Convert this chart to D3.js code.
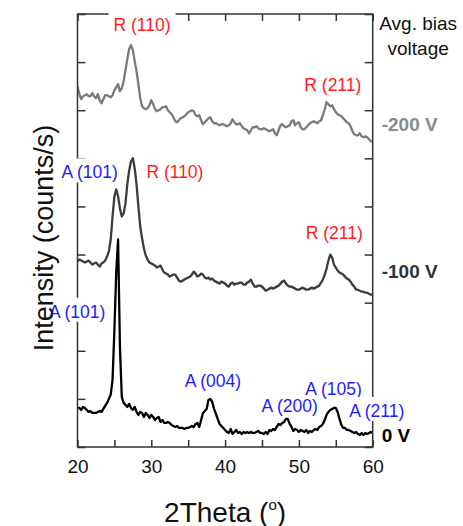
<!DOCTYPE html>
<html>
<head>
<meta charset="utf-8">
<script src="https://cdn.jsdelivr.net/npm/d3@7"></script>
<style>
    body { margin: 0; background: #fff; }
    svg { display: block; }
    text { font-family: "Liberation Sans", Arial, Helvetica, sans-serif; }
</style>
</head>
<body>
<div id="chart"></div>
<script>
// 2Theta grid (degrees), one point every 0.25
const angleStart = 20, angleEnd = 60, angleStep = 0.25;
const twoTheta = d3.range(angleStart, angleEnd + angleStep / 2, angleStep);

const xTicks = [20, 30, 40, 50, 60];
const xMinorTicks = [20, 25, 30, 35, 40, 45, 50, 55, 60];
const yTicks = [0, 48, 96, 144, 192, 240, 288, 336, 384, 432];

// stacked intensities (counts/s, offset per bias voltage), one row per degree
const intensity0V = [
    39, 39, 37, 40,  39, 37, 35, 36,  34, 34, 34, 35,  36, 35, 38, 41,
    44, 48, 52, 67,  117, 175, 207, 100,  50, 44, 42, 40,  43, 39, 37, 40,
    35, 32, 35, 34,  30, 34, 32, 29,  32, 30, 27, 29,  30, 25, 27, 24,
    24, 25, 24, 22,  21, 20, 21, 19,  19, 19, 18, 19,  19, 20, 21, 20,
    23, 24, 20, 27,  34, 36, 38, 47,  48, 45, 38, 33,  28, 23, 21, 19,
    17, 15, 14, 18,  13, 15, 17, 14,  15, 13, 15, 14,  15, 14, 15, 14,
    14, 15, 16, 14,  14, 13, 15, 13,  17, 16, 18, 17,  20, 23, 22, 24,
    25, 28, 28, 23,  20, 16, 18, 17,  15, 17, 16, 15,  17, 14, 16, 15,
    17, 18, 17, 20,  21, 23, 27, 32,  35, 37, 38, 39,  39, 35, 28, 22,
    19, 19, 17, 17,  16, 15, 14, 15,  13, 12, 14, 12,  14, 13, 14, 15,
    14
];
const intensity100V = [
    185, 187, 186, 185,  184, 185, 186, 184,  182, 183, 184, 182,  180, 183, 184, 186,
    190, 195, 207, 230,  250, 257, 250, 238,  230, 233, 243, 262,  276, 285, 288, 278,
    262, 240, 220, 208,  198, 191, 187, 184,  183, 182, 181, 179,  180, 181, 177, 174,
    173, 172, 170, 171,  172, 172, 169, 166,  165, 166, 167, 168,  169, 170, 172, 175,
    173, 170, 171, 173,  172, 169, 168, 169,  167, 168, 166, 165,  164, 163, 165, 164,
    163, 161, 160, 163,  164, 162, 163, 163,  164, 164, 162, 162,  164, 165, 167, 163,
    160, 160, 161, 161,  160, 158, 156, 157,  158, 159, 158, 159,  160, 161, 163, 165,
    166, 163, 161, 160,  160, 159, 158, 157,  157, 158, 159, 158,  157, 157, 158, 159,
    158, 159, 160, 161,  164, 167, 172, 178,  186, 192, 189, 182,  179, 176, 174, 173,
    172, 170, 168, 167,  165, 162, 160, 157,  157, 156, 155, 155,  154, 154, 153, 152,
    152
];
const intensity200V = [
    360, 352, 347, 350,  351, 352, 350, 350,  353, 350, 348, 352,  346, 343, 347, 351,
    351, 350, 349, 351,  356, 359, 362, 355,  358, 365, 376, 387,  397, 401, 396, 385,
    375, 362, 348, 340,  338, 337, 338, 341,  346, 342, 337, 335,  336, 337, 339, 339,
    340, 336, 334, 332,  329, 325, 324, 326,  328, 329, 330, 332,  334, 335, 336, 335,
    331, 330, 331, 326,  322, 324, 326, 328,  329, 325, 323, 323,  322, 321, 322, 322,
    321, 320, 321, 323,  327, 324, 322, 322,  323, 320, 318, 317,  316, 313, 316, 319,
    319, 320, 318, 317,  317, 318, 317, 316,  315, 316, 317, 313,  311, 316, 321, 322,
    320, 319, 320, 321,  325, 326, 321, 323,  324, 319, 317, 317,  319, 321, 323, 324,
    325, 324, 323, 325,  326, 331, 337, 344,  342, 340, 341, 337,  334, 332, 331, 330,
    328, 326, 324, 323,  320, 315, 312, 311,  311, 313, 310, 309,  310, 309, 307, 305,
    305
];

const seriesNames = ['-200 V', '-100 V', '0 V'];
const seriesValues = [intensity200V, intensity100V, intensity0V];
const seriesColors = ['#7a7a7a', '#3c3c3c', '#000000'];
const seriesLabelColors = ['#8a8a8a', '#333333', '#000000'];
const seriesLabelLevel = [315, 169, 5];

// peak labels: text, 2Theta of the label centre, baseline level
const peakText  = ['R (110)', 'R (211)', 'A (101)', 'R (110)', 'R (211)', 'A (101)', 'A (004)', 'A (200)', 'A (105)', 'A (211)'];
const peakTheta = [28.75, 54.6, 21.65, 33.2, 54.8, 19.95, 38.35, 48.75, 54.7, 60.55];
const peakLevel = [415, 355, 268, 268, 208, 129, 60, 35, 52, 30];

const phaseColors = { R: '#ff1c1c', A: '#1c1cff' };

const width = 463, height = 526;
const margin = { top: 14, right: 90.3, bottom: 79, left: 77.5 };
const w = width - margin.left - margin.right;
const h = height - margin.top - margin.bottom;

const svg = d3.select('#chart')
    .append('svg')
    .attr('width', width)
    .attr('height', height);

const g = svg.append('g')
    .attr('transform', `translate(${margin.left},${margin.top})`);

const x = d3.scaleLinear().domain([angleStart, angleEnd]).range([0, w]);
const y = d3.scaleLinear().domain([0, 432]).range([h, 0]);

g.append('clipPath')
    .attr('id', 'plot-clip')
    .append('rect')
    .attr('width', w)
    .attr('height', h);

const line = d3.line()
    .x((d, i) => x(twoTheta[i]))
    .y(d => y(d));

g.append('g')
    .attr('clip-path', 'url(#plot-clip)')
    .selectAll('path')
    .data(seriesValues)
    .enter()
    .append('path')
    .attr('d', d => line(d))
    .attr('fill', 'none')
    .attr('stroke', (d, i) => seriesColors[i])
    .attr('stroke-width', 2.3)
    .attr('stroke-linejoin', 'round');

// frame with inward ticks on all four sides
const frameColor = '#333';

const bottomAxis = g.append('g')
    .attr('transform', `translate(0,${h})`)
    .call(d3.axisBottom(x)
        .tickValues(xMinorTicks)
        .tickSize(-7)
        .tickPadding(12.5)
        .tickFormat(d => xTicks.includes(d) ? d : ''));

g.append('g')
    .call(d3.axisTop(x).tickValues(xMinorTicks).tickSize(-7).tickFormat(''));

g.append('g')
    .call(d3.axisLeft(y).tickValues(yTicks).tickSize(-8).tickFormat(''));

g.append('g')
    .attr('transform', `translate(${w},0)`)
    .call(d3.axisRight(y).tickValues(yTicks).tickSize(-8).tickFormat(''));

g.selectAll('.domain').remove();
g.selectAll('.tick line').attr('stroke', frameColor).attr('stroke-width', 1.5);

bottomAxis.selectAll('text')
    .style('font-size', '19px')
    .attr('fill', '#111');

g.append('rect')
    .attr('width', w)
    .attr('height', h)
    .attr('fill', 'none')
    .attr('stroke', frameColor)
    .attr('stroke-width', 1.5);

// peak labels, with a white patch where they sit over the frame
const labels = g.selectAll('.peak-label')
    .data(peakText)
    .enter()
    .append('g')
    .attr('class', 'peak-label');

labels.append('text')
    .attr('x', (d, i) => x(peakTheta[i]))
    .attr('y', (d, i) => y(peakLevel[i]))
    .attr('text-anchor', 'middle')
    .style('font-size', '17.5px')
    .attr('fill', d => phaseColors[d[0]])
    .text(d => d);

labels.each(function () {
    const grp = d3.select(this);
    const box = grp.select('text').node().getBBox();
    const padX = 5, padY = 4;
    const crosses = box.x - padX < 0 || box.x + box.width + padX > w || box.y - padY < 0;
    if (crosses) {
        grp.insert('rect', 'text')
            .attr('x', box.x - padX)
            .attr('y', box.y - padY)
            .attr('width', box.width + 2 * padX)
            .attr('height', box.height + padY)
            .attr('fill', '#fff');
    }
});

// bias voltage legend on the right
const legendX = w + 9;

g.append('text')
    .attr('x', w + 45.5)
    .attr('y', 16)
    .attr('text-anchor', 'middle')
    .style('font-size', '19px')
    .attr('fill', '#111')
    .call(t => {
        t.append('tspan').attr('x', w + 45.5).attr('dy', 0).text('Avg. bias');
        t.append('tspan').attr('x', w + 45.5).attr('dy', 25).text('voltage');
    });

g.selectAll('.series-label')
    .data(seriesNames)
    .enter()
    .append('text')
    .attr('class', 'series-label')
    .attr('x', legendX)
    .attr('y', (d, i) => y(seriesLabelLevel[i]))
    .style('font-size', '19px')
    .style('font-weight', 'bold')
    .attr('fill', (d, i) => seriesLabelColors[i])
    .text(d => d);

// axis titles
svg.append('text')
    .attr('x', margin.left + w / 2)
    .attr('y', 521.5)
    .attr('text-anchor', 'middle')
    .style('font-size', '28px')
    .attr('fill', '#111')
    .call(t => {
        t.append('tspan').text('2Theta (');
        t.append('tspan').attr('dy', -12).style('font-size', '15px').text('o');
        t.append('tspan').attr('dy', 12).text(')');
    });

svg.append('text')
    .attr('transform', 'translate(53,238) rotate(-90)')
    .attr('text-anchor', 'middle')
    .style('font-size', '27px')
    .attr('fill', '#111')
    .text('Intensity (counts/s)');
</script>
</body>
</html>
